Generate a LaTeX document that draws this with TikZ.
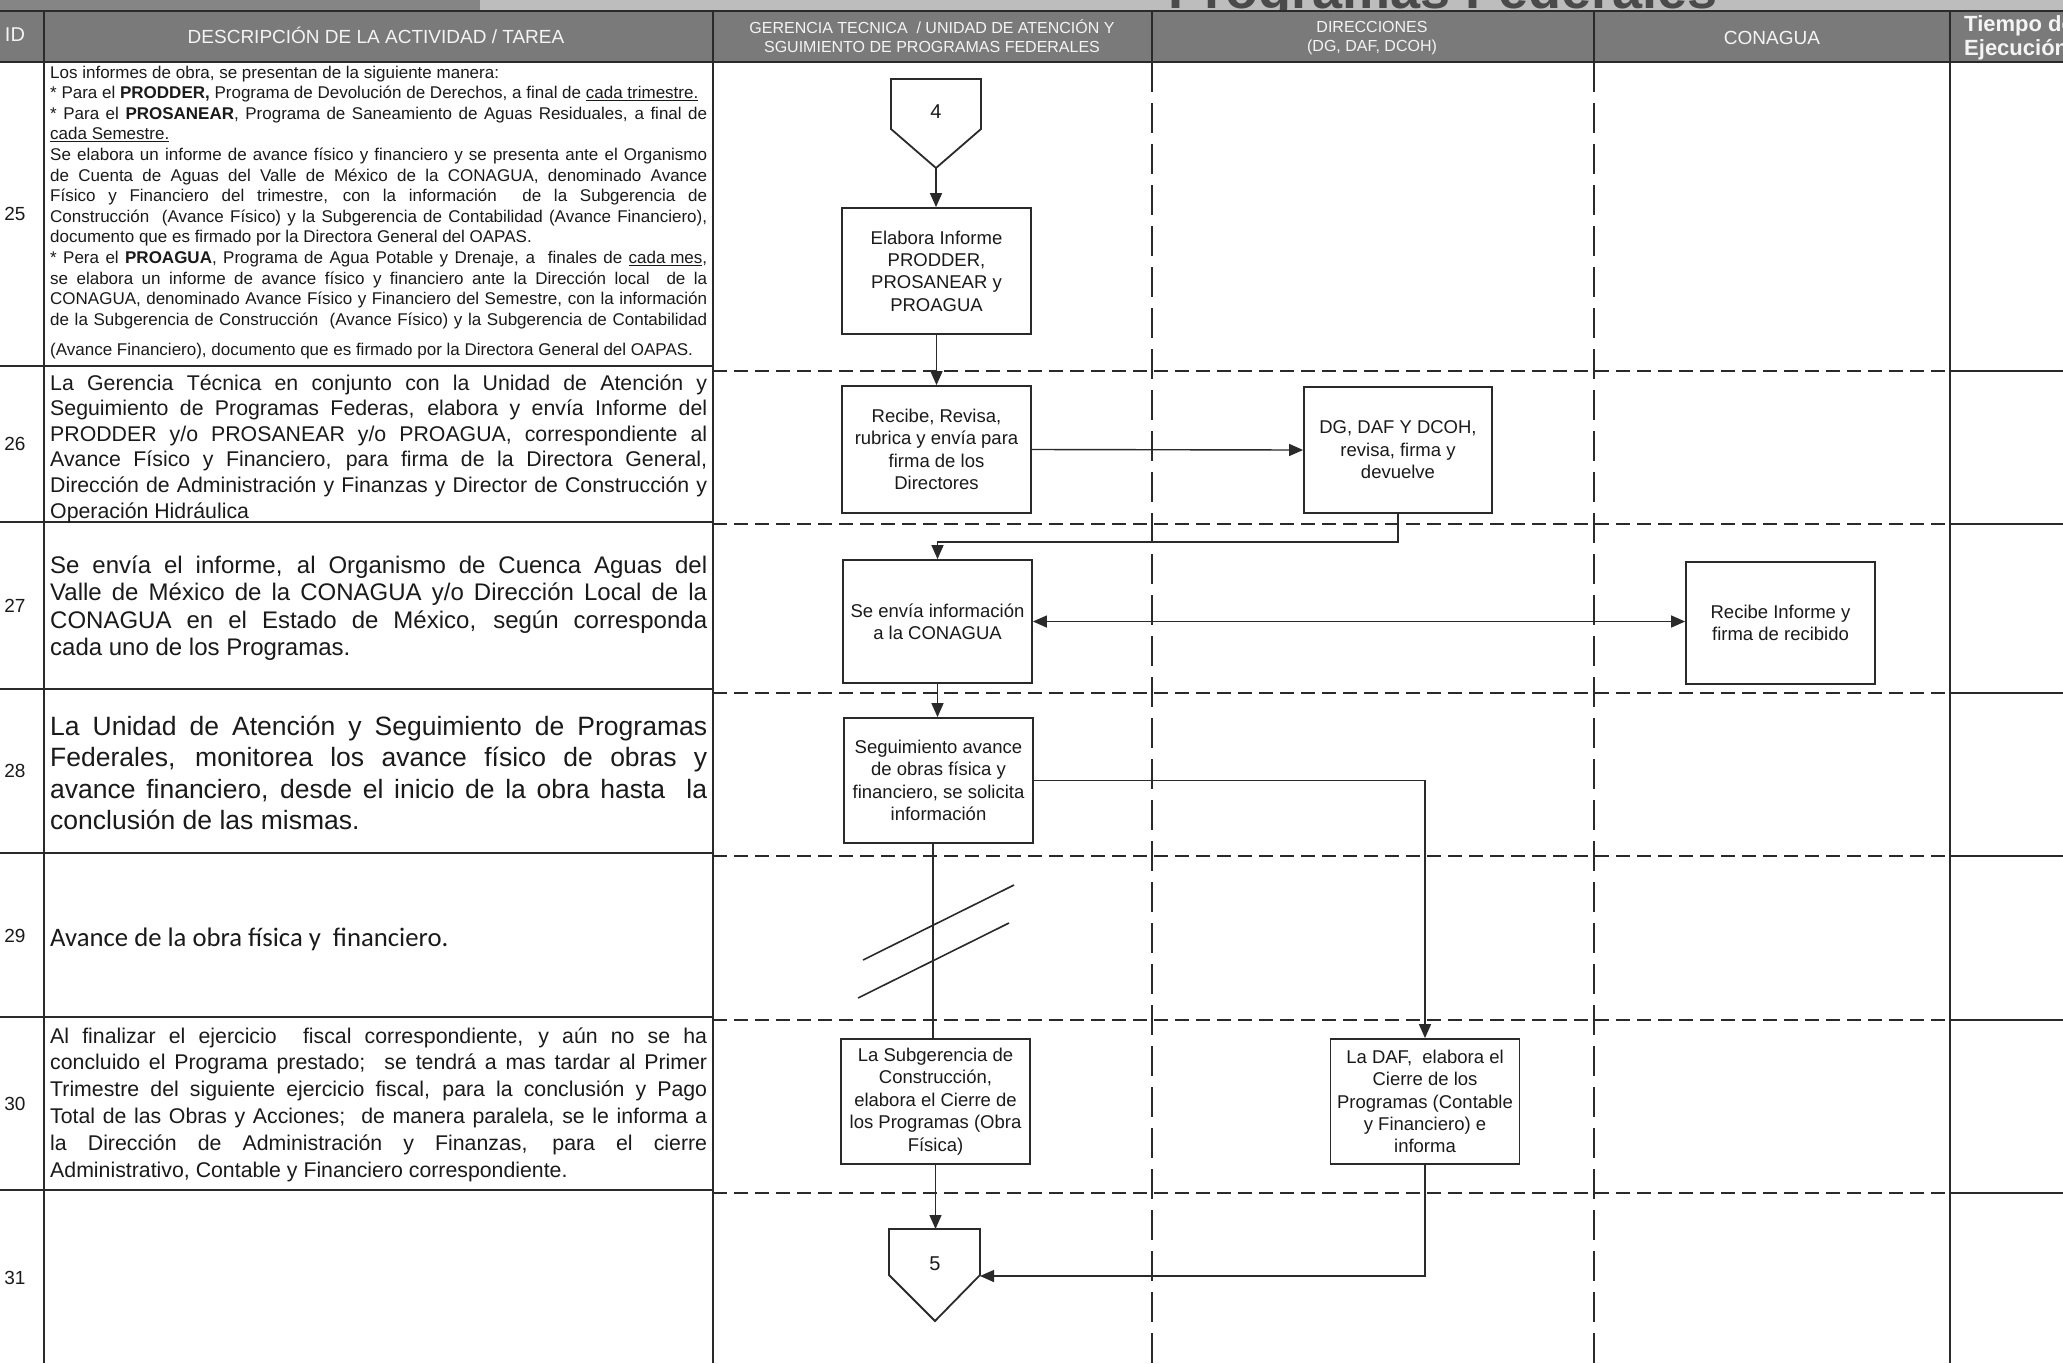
\documentclass[tikz,border=0pt]{standalone}
\usepackage{fontspec}
\setmainfont{Liberation Sans}
\newfontfamily\calib{Carlito}
\usetikzlibrary{arrows.meta}

\definecolor{lc}{HTML}{2A2A2A}
\definecolor{hdrgray}{HTML}{7A7A7A}
\definecolor{hdrtext}{HTML}{F4F4F4}
\definecolor{strip}{HTML}{BDBDBD}
\definecolor{stripdark}{HTML}{858585}
\definecolor{titlegray}{HTML}{4A4A4A}
\definecolor{ink}{HTML}{1A1A1A}

% width of the description text block and justified-line helper
\newlength{\dtw}\setlength{\dtw}{657pt}
\newcommand{\jline}[1]{\makebox[\dtw][s]{#1}}
\newcommand{\fsz}[2]{\fontsize{#1pt}{#2pt}\selectfont}

\tikzset{
  rule/.style={draw=lc, line width=2pt},
  hdash/.style={draw=lc, line width=1.6pt, dash pattern=on 14pt off 7pt},
  vdash/.style={draw=lc, line width=2.2pt, dash pattern=on 30pt off 11pt},
  pbox/.style={draw=lc, line width=1.8pt, fill=white, minimum width=189pt,
    inner sep=0pt, align=center, text=ink, font=\fsz{18.5}{22.4}},
  conn/.style={draw=lc, line width=1.4pt},
  arr/.style={conn, -{Triangle[length=14pt,width=12pt]}},
  dblarr/.style={conn, {Triangle[length=14pt,width=12pt]}-{Triangle[length=14pt,width=12pt]}},
  hdr/.style={text=hdrtext, inner sep=0pt, align=center},
  idnum/.style={text=ink, inner sep=0pt, font=\fsz{19}{23}},
  desc/.style={anchor=base west, inner sep=0pt, text=ink},
}

\begin{document}
\begin{tikzpicture}[x=1pt,y=-1pt]
\useasboundingbox (0,0) rectangle (2063,1363);
\clip (0,0) rectangle (2063,1363);
\fill[white] (0,0) rectangle (2063,1363);

% ---- top strip with the title
\fill[strip] (0,0) rectangle (2063,11);
\fill[stripdark] (0,0) rectangle (480,11);
\node[anchor=base, inner sep=0pt, text=titlegray, font=\bfseries\fsz{54}{60}] (title) at (1443,8) {Programas Federales};

% ---- header band
\fill[hdrgray] (0,11) rectangle (2063,62);
\draw[rule] (0,11) -- (2063,11);
\draw[rule] (0,62) -- (2063,62);
\foreach \x in {44,713,1152,1594,1950} \draw[rule] (\x,11) -- (\x,62);

\node[hdr, font=\fsz{20}{24}] (hid) at (15,35) {ID};
\node[hdr, font=\fsz{19}{23}] (hdesc) at (376,35) {DESCRIPCIÓN DE LA ACTIVIDAD / TAREA};
\node[hdr, font=\fsz{16}{19}] (hger) at (932,36) {GERENCIA TECNICA \ / UNIDAD DE ATENCIÓN Y\\SGUIMIENTO DE PROGRAMAS FEDERALES};
\node[hdr, font=\fsz{16}{19}] (hdir) at (1372,38) {DIRECCIONES\\(DG, DAF, DCOH)};
\node[hdr, font=\fsz{19}{23}] (hcon) at (1772,38) {CONAGUA};
\node[hdr, anchor=west, align=left, font=\bfseries\fsz{22}{24}] (htie) at (1964,38) {Tiempo de\\Ejecución};

% ---- column lines
\draw[rule] (44,62) -- (44,1363);
\draw[rule, line width=1.6pt] (713,62) -- (713,1363);
\draw[vdash] (1152,62) -- (1152,1363);
\draw[vdash] (1594,62) -- (1594,1363);
\draw[rule, line width=1.6pt] (1950,62) -- (1950,1363);

% ---- row lines: solid in the text columns, dashed across the lanes
\foreach \yd/\yl in {366/371, 522/524, 689/693, 853/856, 1017/1020, 1190/1193} {
  \draw[rule] (0,\yd) -- (713,\yd);
  \draw[hdash] (713,\yl) -- (1950,\yl);
  \draw[rule] (1950,\yl) -- (2063,\yl);
}

% ---- activity numbers
\node[idnum] (id25) at (15,214) {25};
\node[idnum] (id26) at (15,444) {26};
\node[idnum] (id27) at (15,606) {27};
\node[idnum] (id28) at (15,771) {28};
\node[idnum] (id29) at (15,936) {29};
\node[idnum] (id30) at (15,1104) {30};
\node[idnum] (id31) at (15,1278) {31};

% ---- activity descriptions
\node[desc] (d25) at (50,78) {\parbox[t]{\dtw}{\fsz{17}{20.6}%
Los informes de obra, se presentan de la siguiente manera:\\
{*} Para el \textbf{PRODDER,} Programa de Devolución de Derechos, a final de \underline{cada trimestre.}\\
\jline{* Para el \textbf{PROSANEAR}, Programa de Saneamiento de Aguas Residuales, a final de}\\
\underline{cada Semestre.}\\
\jline{Se elabora un informe de avance físico y financiero y se presenta ante el Organismo}\\
\jline{de Cuenta de Aguas del Valle de México de la CONAGUA, denominado Avance}\\
\jline{Físico y Financiero del trimestre, con la información \ de la Subgerencia de}\\
\jline{Construcción \ (Avance Físico) y la Subgerencia de Contabilidad (Avance Financiero),}\\
documento que es firmado por la Directora General del OAPAS.\\
\jline{* Pera el \textbf{PROAGUA}, Programa de Agua Potable y Drenaje, a \ finales de \underline{cada mes},}\\
\jline{se elabora un informe de avance físico y financiero ante la Dirección local \ de la}\\
\jline{CONAGUA, denominado Avance Físico y Financiero del Semestre, con la información}\\
\jline{de la Subgerencia de Construcción \ (Avance Físico) y la Subgerencia de Contabilidad}\\[9.4pt]
(Avance Financiero), documento que es firmado por la Directora General del OAPAS.}};

\node[desc] (d26) at (50,390) {\parbox[t]{\dtw}{\fsz{21.3}{25.6}%
\jline{La Gerencia Técnica en conjunto con la Unidad de Atención y}\\
\jline{Seguimiento de Programas Federas, elabora y envía Informe del}\\
\jline{PRODDER y/o PROSANEAR y/o PROAGUA, correspondiente al}\\
\jline{Avance Físico y Financiero, para firma de la Directora General,}\\
\jline{Dirección de Administración y Finanzas y Director de Construcción y}\\
Operación Hidráulica}};

\node[desc] (d27) at (50,573) {\parbox[t]{\dtw}{\fsz{24}{27.6}%
\jline{Se envía el informe, al Organismo de Cuenca Aguas del}\\
\jline{Valle de México de la CONAGUA y/o Dirección Local de la}\\
\jline{CONAGUA en el Estado de México, según corresponda}\\
cada uno de los Programas.}};

\node[desc] (d28) at (50,735) {\parbox[t]{\dtw}{\fsz{26.5}{31.6}%
\jline{La Unidad de Atención y Seguimiento de Programas}\\
\jline{Federales, monitorea los avance físico de obras y}\\
\jline{avance financiero, desde el inicio de la obra hasta \ la}\\
conclusión de las mismas.}};

\node[desc, font=\calib\fsz{26.7}{32}] (d29) at (50,946) {Avance de la obra física y \ financiero.};

\node[desc] (d30) at (50,1043) {\parbox[t]{\dtw}{\fsz{21.3}{26.8}%
\jline{Al finalizar el ejercicio \ fiscal correspondiente, y aún no se ha}\\
\jline{concluido el Programa prestado; \ se tendrá a mas tardar al Primer}\\
\jline{Trimestre del siguiente ejercicio fiscal, para la conclusión y Pago}\\
\jline{Total de las Obras y Acciones; \ de manera paralela, se le informa a}\\
\jline{la Dirección de Administración y Finanzas, para el cierre}\\
Administrativo, Contable y Financiero correspondiente.}};

% ---- off-page connector 4
\coordinate (c4tip) at (936,168);
\draw[draw=lc, line width=1.8pt, fill=white] (891,79) -- (981,79) -- (981,129) -- (c4tip) -- (891,129) -- cycle;
\node[inner sep=0pt, text=ink, font=\fsz{20}{24}] (c4) at (936,112) {4};

% ---- process boxes
\node[pbox, minimum height=126pt] (elab) at (936.5,271) {Elabora Informe\\PRODDER,\\PROSANEAR y\\PROAGUA};
\node[pbox, minimum height=127pt] (recibe) at (936.5,449.5) {Recibe, Revisa,\\rubrica y envía para\\firma de los\\Directores};
\node[pbox, minimum width=188pt, minimum height=126pt] (dg) at (1398,450) {DG, DAF Y DCOH,\\revisa, firma y\\devuelve};
\node[pbox, minimum height=123pt] (envia) at (937.5,621.5) {Se envía información\\a la CONAGUA};
\node[pbox, minimum height=122pt] (conag) at (1780.5,623) {Recibe Informe y\\firma de recibido};
\node[pbox, minimum height=125pt] (seg) at (938.5,780.5) {Seguimiento avance\\de obras física y\\financiero, se solicita\\información};
\node[pbox, minimum height=125pt] (subg) at (935.5,1101.5) {La Subgerencia de\\Construcción,\\elabora el Cierre de\\los Programas (Obra\\Física)};
\node[pbox, minimum height=125pt] (daf) at (1425,1101.5) {La DAF, \ elabora el\\Cierre de los\\Programas (Contable\\y Financiero) e\\informa};

% ---- off-page connector 5
\coordinate (c5top) at (935,1229);
\coordinate (c5r) at (980,1276);
\draw[draw=lc, line width=1.8pt, fill=white] (889,1229) -- (980,1229) -- (980,1275) -- (935,1321) -- (889,1275) -- cycle;
\node[inner sep=0pt, text=ink, font=\fsz{20}{24}] (c5) at (935,1264) {5};

% ---- connectors
\draw[arr] (c4tip) -- (c4tip |- elab.north);
\draw[arr] (elab.south) -- (recibe.north);
\draw[arr] (recibe.east) -- (dg.west);
\draw[arr] (dg.south) -- ++(0,28) -| (envia.north);
\draw[dblarr] (envia.east) -- (envia.east -| conag.west);
\draw[arr] (envia.south) -- (envia.south |- seg.north);
\draw[arr] (seg.east) -| (daf.north);
\coordinate (brk) at (933,0);
\draw[conn] (seg.south -| brk) -- (subg.north -| brk);
\draw[conn, line width=1.6pt] (863,960) -- (1014,885);
\draw[conn, line width=1.6pt] (858,998) -- (1009,923);
\draw[arr] (subg.south) -- (subg.south |- c5top);
\draw[arr] (daf.south) |- (c5r);

\end{tikzpicture}
\end{document}
